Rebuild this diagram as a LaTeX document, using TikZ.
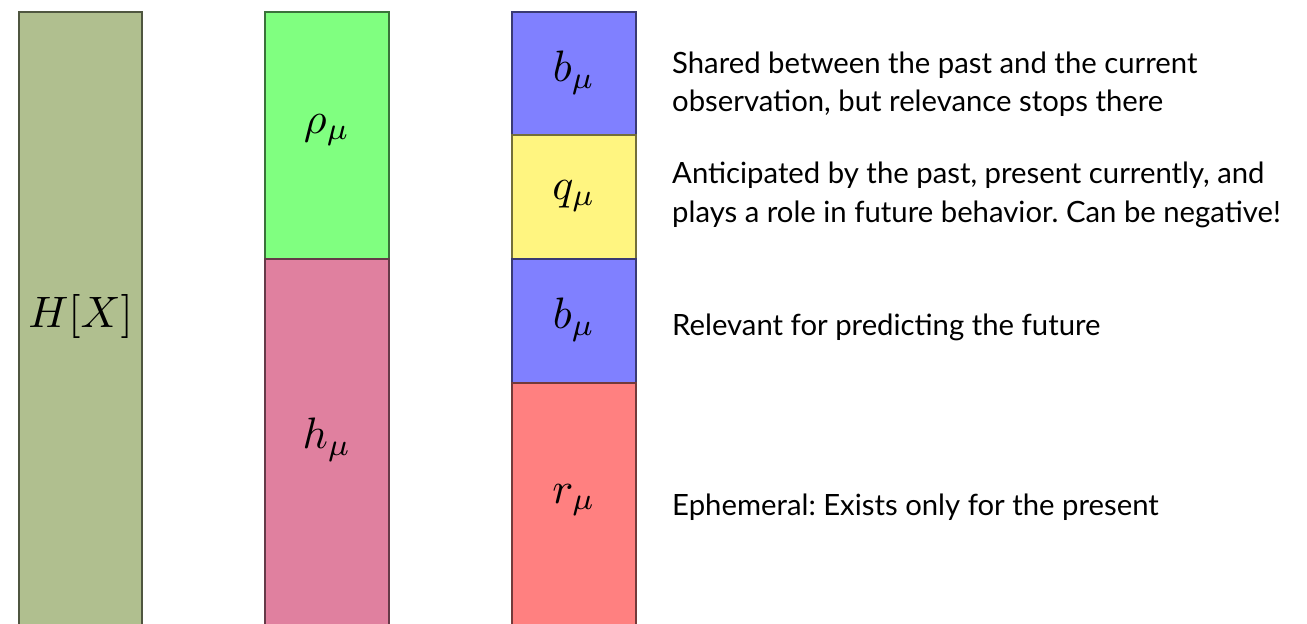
\documentclass[tikz,border=0pt]{standalone}
\usepackage{graphicx}
\usepackage{fontspec}
\setmainfont{Lato}
\frenchspacing
\definecolor{olivefill}{RGB}{176,191,143}
\definecolor{greenfill}{RGB}{128,255,128}
\definecolor{pinkfill}{RGB}{224,128,159}
\definecolor{bluefill}{RGB}{128,128,255}
\definecolor{yellowfill}{RGB}{255,245,128}
\definecolor{redfill}{RGB}{255,128,128}
\newcommand{\biglbl}[1]{\scalebox{4.4}{$#1$}}
\tikzset{
  seg/.style={draw=#1!45!black, fill=#1, line width=1.4pt},
  mathlbl/.style={inner sep=0pt},
  desc/.style={anchor=base west, align=left, inner sep=0pt, font=\fontsize{29.3}{38}\selectfont}
}
\begin{document}
\begin{tikzpicture}[x=1pt,y=-1pt]
\useasboundingbox (0,0) rectangle (1307,624);
\begin{scope}
\clip (0,0) rectangle (1307,624);
\draw[seg=olivefill] (19,12) rectangle (142,640);
\draw[seg=greenfill] (265,12) rectangle (389,259);
\draw[seg=pinkfill] (265,259) rectangle (389,640);
\draw[seg=bluefill] (512,12) rectangle (636,135);
\draw[seg=yellowfill] (512,135) rectangle (636,259);
\draw[seg=bluefill] (512,259) rectangle (636,383);
\draw[seg=redfill] (512,383) rectangle (636,640);
\end{scope}
\node[mathlbl] (hx) at (80.5,316) {\biglbl{H[X]}};
\node[mathlbl] (rho) at (327,130) {\biglbl{\rho_\mu}};
\node[mathlbl] (h) at (327,440) {\biglbl{h_\mu}};
\node[mathlbl] (b1) at (574,73) {\biglbl{b_\mu}};
\node[mathlbl] (q) at (574,196) {\biglbl{q_\mu}};
\node[mathlbl] (b2) at (574,320) {\biglbl{b_\mu}};
\node[mathlbl] (r) at (574,500) {\biglbl{r_\mu}};
\node[desc] (t1a) at (672,73) {Shared between the past and the current};
\node[desc] (t1b) at (672,111) {observation, but relevance stops there};
\node[desc] (t2a) at (672,183) {Anticipated by the past, present currently, and};
\node[desc] (t2b) at (672,222) {plays a role in future behavior. Can be negative!};
\node[desc] (t3) at (672,335) {Relevant for predicting the future};
\node[desc] (t4) at (672,515) {Ephemeral: Exists only for the present};
\end{tikzpicture}
\end{document}
